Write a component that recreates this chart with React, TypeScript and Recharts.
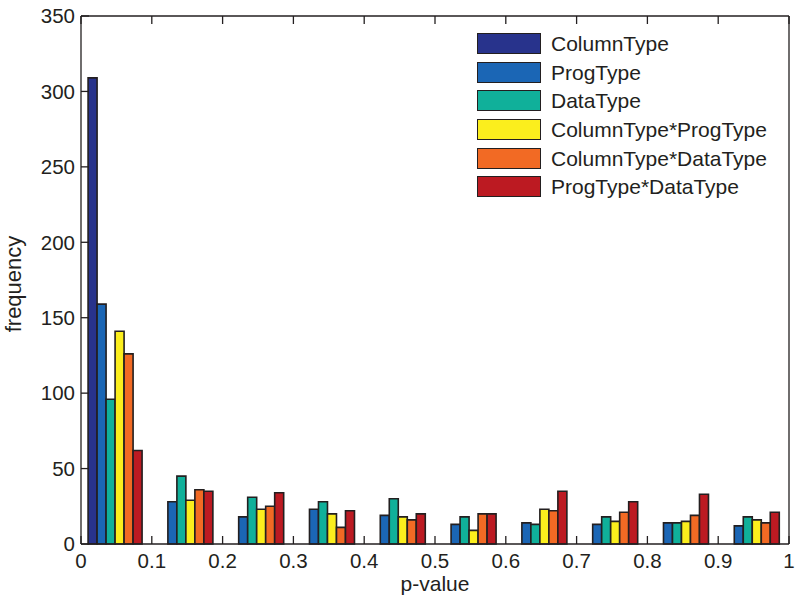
import React from "react";
import { Bar, BarChart, Legend, XAxis, YAxis } from "recharts";

// bin centres of the p-value histogram (bins are 0.1 wide)
const binCenters = [0.05, 0.15, 0.25, 0.35, 0.45, 0.55, 0.65, 0.75, 0.85, 0.95];

const columnType = [309, 0, 0, 0, 0, 0, 0, 0, 0, 0];
const progType = [159, 28, 18, 23, 19, 13, 14, 13, 14, 12];
const dataType = [96, 45, 31, 28, 30, 18, 13, 18, 14, 18];
const columnProg = [141, 29, 23, 20, 18, 9, 23, 15, 15, 16];
const columnData = [126, 36, 25, 11, 16, 20, 22, 21, 19, 14];
const progData = [62, 35, 34, 22, 20, 20, 35, 28, 33, 21];

const xTicks = [0, 0.1, 0.2, 0.3, 0.4, 0.5, 0.6, 0.7, 0.8, 0.9, 1];
const yTicks = [0, 50, 100, 150, 200, 250, 300, 350];

const series = [
  { key: "ColumnType", values: columnType, color: "#28338c" },
  { key: "ProgType", values: progType, color: "#1b66b5" },
  { key: "DataType", values: dataType, color: "#10b09a" },
  { key: "ColumnType*ProgType", values: columnProg, color: "#fbee1d" },
  { key: "ColumnType*DataType", values: columnData, color: "#f26a24" },
  { key: "ProgType*DataType", values: progData, color: "#bc1a22" },
];

const data = binCenters.map((center, i) => {
  const row: Record<string, number> = { center };
  series.forEach((s) => (row[s.key] = s.values[i]));
  return row;
});

const INK = "#231f20";
const FONT = "Arial, 'Liberation Sans', Helvetica, sans-serif";

// MATLAB style: ticks point into the plot box
function BottomTick({ x, y, payload }: any) {
  return (
    <g>
      <line x1={x} y1={y} x2={x} y2={y - 8} stroke={INK} strokeWidth={1.3} />
      <text x={x} y={y + 24} textAnchor="middle" fontSize={20.5} fill={INK} fontFamily={FONT}>
        {payload.value}
      </text>
    </g>
  );
}

function TopTick({ x, y }: any) {
  return <line x1={x} y1={y} x2={x} y2={y + 8} stroke={INK} strokeWidth={1.3} />;
}

function LeftTick({ x, y, payload }: any) {
  return (
    <g>
      <line x1={x} y1={y} x2={x + 8} y2={y} stroke={INK} strokeWidth={1.3} />
      <text x={x - 6} y={y + 7.3} textAnchor="end" fontSize={20.5} fill={INK} fontFamily={FONT}>
        {payload.value}
      </text>
    </g>
  );
}

function RightTick({ x, y }: any) {
  return <line x1={x} y1={y} x2={x - 8} y2={y} stroke={INK} strokeWidth={1.3} />;
}

function LegendBox() {
  return (
    <div style={{ fontFamily: FONT, fontSize: 21, color: INK }}>
      {series.map((s) => (
        <div key={s.key} style={{ display: "flex", alignItems: "center", height: 28.7 }}>
          <div
            style={{
              width: 62,
              height: 19,
              background: s.color,
              border: `1.5px solid ${INK}`,
              marginRight: 10,
            }}
          />
          <span style={{ lineHeight: "21px" }}>{s.key}</span>
        </div>
      ))}
    </div>
  );
}

export default function App() {
  return (
    <div style={{ position: "absolute", left: 0, top: 0, width: 800, height: 606, background: "#fff" }}>
      <BarChart
        width={800}
        height={606}
        data={data}
        margin={{ top: 15, right: 10, bottom: 61, left: 80 }}
        barCategoryGap="10%"
        barGap={0}
      >
        <XAxis
          dataKey="center"
          type="number"
          domain={[0, 1]}
          ticks={xTicks}
          interval={0}
          height={1}
          tickSize={0}
          tickMargin={0}
          tickLine={false}
          axisLine={{ stroke: INK, strokeWidth: 1.3 }}
          tick={<BottomTick />}
          label={() => (
            <text x={435} y={591} textAnchor="middle" fontSize={21} fill={INK} fontFamily={FONT}>
              p-value
            </text>
          )}
        />
        <XAxis
          xAxisId="top"
          orientation="top"
          dataKey="center"
          type="number"
          domain={[0, 1]}
          ticks={xTicks}
          interval={0}
          height={1}
          tickSize={0}
          tickMargin={0}
          tickLine={false}
          axisLine={{ stroke: INK, strokeWidth: 1.3 }}
          tick={<TopTick />}
        />
        <YAxis
          type="number"
          domain={[0, 350]}
          ticks={yTicks}
          interval={0}
          width={1}
          tickSize={0}
          tickMargin={0}
          tickLine={false}
          axisLine={{ stroke: INK, strokeWidth: 1.3 }}
          tick={<LeftTick />}
          label={() => (
            <text
              transform="translate(21,284) rotate(-90)"
              textAnchor="middle"
              fontSize={22}
              fill={INK}
              fontFamily={FONT}
            >
              frequency
            </text>
          )}
        />
        <YAxis
          yAxisId="right"
          orientation="right"
          type="number"
          domain={[0, 350]}
          ticks={yTicks}
          interval={0}
          width={1}
          tickSize={0}
          tickMargin={0}
          tickLine={false}
          axisLine={{ stroke: INK, strokeWidth: 1.3 }}
          tick={<RightTick />}
        />
        <Legend
          layout="vertical"
          align="center"
          verticalAlign="middle"
          content={<LegendBox />}
          wrapperStyle={{ left: 477, top: 29, width: 300, height: 175 }}
        />
        {series.map((s) => (
          <Bar
            key={s.key}
            dataKey={s.key}
            fill={s.color}
            stroke={INK}
            strokeWidth={1.6}
            isAnimationActive={false}
          />
        ))}
      </BarChart>
    </div>
  );
}
